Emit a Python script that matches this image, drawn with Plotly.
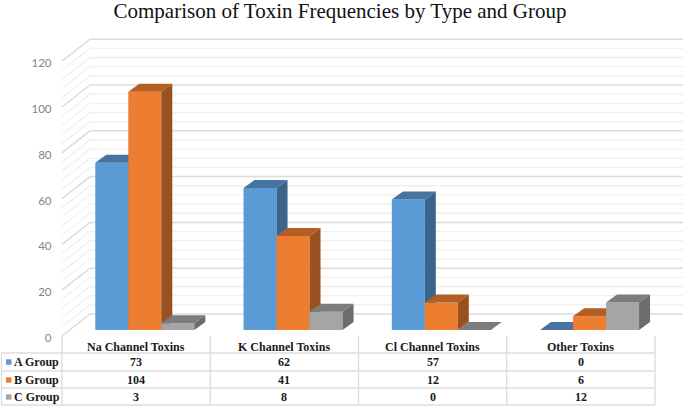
import plotly.graph_objects as go

categories = ["Na Channel Toxins", "K Channel Toxins", "Cl Channel Toxins", "Other Toxins"]
group_names = ["A Group", "B Group", "C Group"]
a_group = [73, 62, 57, 0]
b_group = [104, 41, 12, 6]
c_group = [3, 8, 0, 12]
y_ticks = [0, 20, 40, 60, 80, 100, 120]
title_text = "Comparison of Toxin Frequencies by Type and Group"

series = [a_group, b_group, c_group]
front_col = ["#5B9BD5", "#ED7D31", "#A5A5A5"]
top_col = ["#44749F", "#B25E24", "#7C7C7C"]
side_col = ["#3A6489", "#99521F", "#6C6C6C"]

W, H = 685, 407
X0, Y0 = 62.0, 336.0          # pixel of the front-left axis origin
CW, PU = 148.25, 2.29         # pixels per category, pixels per unit


def X(px):
    return (px - X0) / CW


def Y(py):
    return (Y0 - py) / PU


WALL_DX, WALL_DY = 28 / CW, 22 / PU     # chart-box depth
BAR_DX, BAR_DY = 11 / CW, 8 / PU        # bar depth
BASE = 6 / PU                           # bar floor, lifted off front edge
BAR_W = 33 / CW
GROUP_L = 33.3 / CW
RIGHT = X(683)

fig = go.Figure()

# walls: gridlines every 4 units, heavier at labelled ticks
for heavy in (False, True):
    xs, ys = [], []
    for v in range(0, 121, 4):
        if (v in y_ticks) != heavy:
            continue
        xs += [0, WALL_DX, RIGHT, None]
        ys += [v, v + WALL_DY, v + WALL_DY, None]
    fig.add_trace(go.Scatter(
        x=xs, y=ys, mode="lines", hoverinfo="skip", showlegend=False,
        line=dict(color="#DCDCDC" if heavy else "#F0F0F0", width=1.5 if heavy else 1.3),
    ))

for s, vals in enumerate(series):
    ax = s + 2
    xa, ya = f"x{ax}", f"y{ax}"
    xc = [i + GROUP_L + (s + 0.5) * BAR_W for i in range(len(categories))]
    fig.add_trace(go.Bar(
        x=xc, y=vals, base=BASE, width=BAR_W, name=group_names[s],
        marker=dict(color=front_col[s], line=dict(width=0)),
        customdata=categories, hovertemplate="%{customdata}: %{y}<extra>" + group_names[s] + "</extra>",
        xaxis=xa, yaxis=ya, showlegend=False,
    ))
    tx, ty, sx, sy = [], [], [], []
    for c, v in zip(xc, vals):
        l, r = c - BAR_W / 2, c + BAR_W / 2
        t = BASE + v
        tx += [l, r, r + BAR_DX, l + BAR_DX, l, None]
        ty += [t, t, t + BAR_DY, t + BAR_DY, t, None]
        sx += [r, r + BAR_DX, r + BAR_DX, r, r, None]
        sy += [BASE, BASE + BAR_DY, t + BAR_DY, t, BASE, None]
    for px_, py_, col in ((sx, sy, side_col[s]), (tx, ty, top_col[s])):
        fig.add_trace(go.Scatter(
            x=px_, y=py_, mode="lines", fill="toself", fillcolor=col,
            line=dict(width=0, color=col), hoverinfo="skip", showlegend=False,
            xaxis=xa, yaxis=ya,
        ))

xrange = [X(0), X(W)]
yrange = [Y(H), Y(0)]
layout = dict(
    width=W, height=H, autosize=False,
    margin=dict(l=0, r=0, t=0, b=0),
    paper_bgcolor="white", plot_bgcolor="rgba(0,0,0,0)",
    barmode="overlay",
    title=dict(text=title_text, x=340 / W, xanchor="center", y=1 - 10.5 / H, yanchor="middle",
               font=dict(family="Liberation Serif", size=21, color="#111111")),
    xaxis=dict(range=xrange, visible=False, fixedrange=True),
    yaxis=dict(range=yrange, anchor="free", position=51.5 / W, tickmode="array",
               tickvals=y_ticks, ticks="", showgrid=False, zeroline=False, showline=False,
               ticklabelposition="outside", ticklabelshift=2, fixedrange=True,
               tickfont=dict(family="Lato", size=11.5, color="#858585")),
)
for ax in (2, 3, 4):
    layout[f"xaxis{ax}"] = dict(range=xrange, visible=False, overlaying="x", anchor=f"y{ax}", fixedrange=True)
    layout[f"yaxis{ax}"] = dict(range=yrange, visible=False, overlaying="y", anchor=f"x{ax}", fixedrange=True)
fig.update_layout(**layout)


def hline(x0, x1, y):
    fig.add_shape(type="line", xref="paper", yref="paper", x0=x0 / W, x1=x1 / W,
                  y0=1 - y / H, y1=1 - y / H, line=dict(color="#DCDCDC", width=1.3))


def vline(x, y0, y1):
    fig.add_shape(type="line", xref="paper", yref="paper", x0=x / W, x1=x / W,
                  y0=1 - y0 / H, y1=1 - y1 / H, line=dict(color="#DCDCDC", width=1.3))


def cell(text, x, y, anchor="center"):
    fig.add_annotation(text=f"<b>{text}</b>", xref="paper", yref="paper", x=x / W, y=1 - y / H,
                       xanchor=anchor, yanchor="middle", showarrow=False, borderpad=0,
                       font=dict(family="Liberation Serif", size=12, color="#1A1A1A"))


TABLE_R = X0 + CW * len(categories)
row_lines = [353, 371, 388, 405]
row_mid = [362, 380, 397]
for y in row_lines:
    hline(1.5, TABLE_R, y)
for i in range(len(categories) + 1):
    vline(X0 + CW * i, 336, 405)
vline(1.5, 353, 405)

for i, cat in enumerate(categories):
    cx = X0 + CW * (i + 0.5)
    cell(cat, cx, 347)
    for s, vals in enumerate(series):
        cell(vals[i], cx, row_mid[s])
for s, name in enumerate(group_names):
    cell(name, 13, row_mid[s], anchor="left")
    fig.add_shape(type="rect", xref="paper", yref="paper", x0=6 / W, x1=11.5 / W,
                  y0=1 - (row_mid[s] + 2.7) / H, y1=1 - (row_mid[s] - 2.7) / H,
                  fillcolor=front_col[s], line=dict(width=0))

fig.write_html("out.html", config=dict(displayModeBar=False),
               post_script="document.body.style.margin='0';")
